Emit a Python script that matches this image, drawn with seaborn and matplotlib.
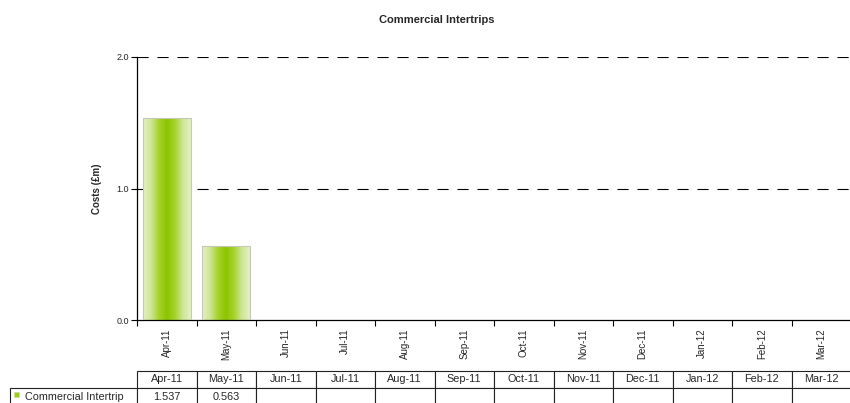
import numpy as np
import pandas as pd
import matplotlib
matplotlib.use("Agg")
import matplotlib.pyplot as plt
from matplotlib.colors import LinearSegmentedColormap
from matplotlib.patches import Rectangle
import seaborn as sns

months = ["Apr-11", "May-11", "Jun-11", "Jul-11", "Aug-11", "Sep-11",
          "Oct-11", "Nov-11", "Dec-11", "Jan-12", "Feb-12", "Mar-12"]
costs = [1.537, 0.563, np.nan, np.nan, np.nan, np.nan,
         np.nan, np.nan, np.nan, np.nan, np.nan, np.nan]
series_name = "Commercial Intertrip"
yticks = [0.0, 1.0, 2.0]

sns.set_theme(style="white")
plt.rcParams['font.family'] = ['Liberation Sans', 'DejaVu Sans']

df = pd.DataFrame({"month": months, "cost": costs})

fig = plt.figure(figsize=(8.5, 4.03), dpi=100)
ax = fig.add_axes([137/850, 1-320/403, 714/850, 263/403])

sns.barplot(data=df.dropna(), x="month", y="cost", order=months, ax=ax,
            color="#b5dc60", edgecolor="#c4c8b4", linewidth=0.8, width=0.8)

# gradient fill for bars
cmap = LinearSegmentedColormap.from_list(
    "g", ["#e4f1c6", "#cfe696", "#a6d22a", "#8cc400", "#a6d22a", "#cfe696", "#e4f1c6"])
grad = np.linspace(0, 1, 256).reshape(1, -1)
for p in list(ax.patches):
    x0, w, h = p.get_x(), p.get_width(), p.get_height()
    if not np.isfinite(h) or h <= 0:
        continue
    im = ax.imshow(grad, cmap=cmap, extent=[x0, x0 + w, 0, h], aspect="auto",
                   zorder=1.5, interpolation="bicubic")
    im.set_clip_path(p)
    p.set_facecolor("none")
    p.set_zorder(3)

ax.set_xlim(-0.5, len(months) - 0.5)
ax.set_ylim(0, 2.0)
ax.set_yticks(yticks)
ax.set_yticklabels([f"{v:.1f}" for v in yticks], fontsize=6.5)
for v in yticks[1:]:
    ax.axhline(v, color="black", lw=0.8, ls=(0, (10, 8)), zorder=0.5)

ax.set_xticks(range(len(months)))
ax.set_xticklabels(months, rotation=90, fontsize=7)
ax.set_xticks(np.arange(-0.5, len(months), 1.0), minor=True)
ax.tick_params(axis="x", which="major", length=0, pad=6)
ax.tick_params(axis="x", which="minor", length=4, width=0.8, color="black", direction="out", bottom=True)
ax.tick_params(axis="y", length=4, width=0.8, color="black", direction="out", left=True, pad=2)
ax.set_xlabel("")
ax.set_ylabel("Costs (£m)", fontsize=7, fontweight="bold", labelpad=10)
for s in ["top", "right"]:
    ax.spines[s].set_visible(False)
for s in ["left", "bottom"]:
    ax.spines[s].set_color("black")
    ax.spines[s].set_linewidth(0.9)

fig.text(437/850, 1-20/403, "Commercial Intertrips", ha="center", va="center",
         fontsize=8, fontweight="bold")

# data table
val_text = ["" if not np.isfinite(v) else f"{v:.3f}" for v in costs]
cell_text = [[""] + months, [series_name] + val_text]
axw = 714.0
left_px = 10.0
tot_w = axw + (137 - left_px)
col_w = [(137 - left_px) / tot_w] + [(axw / 12) / tot_w] * 12
tbl = ax.table(cellText=cell_text, colWidths=col_w, cellLoc="center",
               bbox=[(left_px - 137) / axw, (320 - 405) / 263, tot_w / axw, (405 - 371) / 263])
tbl.auto_set_font_size(False)
tbl.set_fontsize(7.8)
for (r, c), cell in tbl.get_celld().items():
    cell.set_linewidth(0.8)
    cell.set_edgecolor("#222222")
    if r == 0 and c == 0:
        cell.visible_edges = ""
    if r == 1 and c == 0:
        cell.get_text().set_text("    " + series_name)
        cell.get_text().set_ha("left")
        cell._loc = "left"
        cell.PAD = 0.02
ax.add_patch(Rectangle(((14 - 137) / axw, (320 - 397) / 263), 5 / axw, 5 / 263,
                       transform=ax.transAxes, clip_on=False,
                       facecolor="#9ccc1c", edgecolor="#c8dc90", lw=0.5))

fig.savefig("out.png", dpi=100)
